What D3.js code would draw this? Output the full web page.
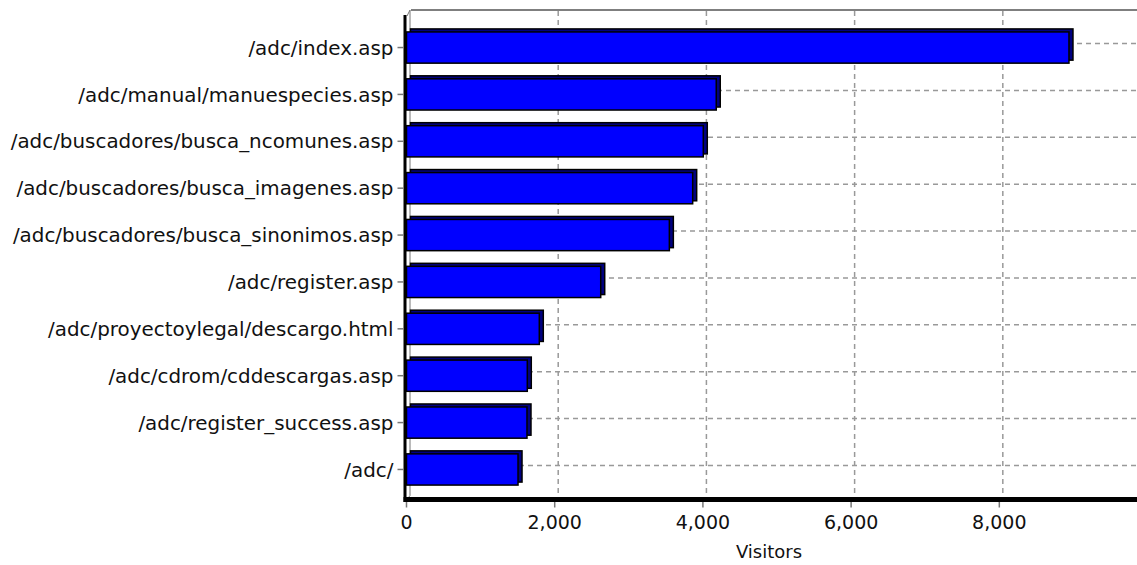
<!DOCTYPE html>
<html>
<head>
<meta charset="utf-8">
<script src="https://cdn.jsdelivr.net/npm/d3@7"></script>
<style>
    body { margin: 0; background: #fff; }
    text { font-family: "DejaVu Sans", sans-serif; fill: #111; }
</style>
</head>
<body>
<svg id="chart" width="1137" height="565"></svg>
<script>

    var pages = [
          "/adc/index.asp"
        , "/adc/manual/manuespecies.asp"
        , "/adc/buscadores/busca_ncomunes.asp"
        , "/adc/buscadores/busca_imagenes.asp"
        , "/adc/buscadores/busca_sinonimos.asp"
        , "/adc/register.asp"
        , "/adc/proyectoylegal/descargo.html"
        , "/adc/cdrom/cddescargas.asp"
        , "/adc/register_success.asp"
        , "/adc/"
    ];

    var visitors = [8940, 4180, 4005, 3862, 3547, 2621, 1792, 1630, 1626, 1505];

    var xTicks = [0, 2000, 4000, 6000, 8000];

    var axisTitle = "Visitors";

    var svg = d3.select("#chart")
      , fmt = d3.format(",")
      , dx = 4, dy = 3        // 3d depth of the bars
      , wx = 3.5, wy = 4      // offset of the back wall
      , wallTop = 10, floor = 499.5, right = 1137;

    var x = d3.scaleLinear()
        .domain([0, 9858])
        .range([406.5, 1137]);

    var y = d3.scaleBand()
        .domain(pages)
        .range([22.6, 491.4])
        .paddingInner(0.27)
        .paddingOuter(0.135);

    var bw = y.bandwidth();

    function mid (name) { return y(name) + dy + (bw - dy) / 2; }

    // back wall border
    svg.append("line")
        .attr("x1", x(0) + wx + 1).attr("x2", right)
        .attr("y1", wallTop).attr("y2", wallTop)
        .attr("stroke", "#555").attr("stroke-width", 1.5);

    svg.append("path")
        .attr("d", "M" + (x(0) + 0.5) + "," + (wallTop + 6) + " L" + (x(0) + wx) + "," + wallTop +
                   " L" + (x(0) + wx) + "," + (floor - wy) + " L" + (x(0) + 0.5) + "," + floor)
        .attr("fill", "none").attr("stroke", "#777").attr("stroke-width", 1);

    // grid on the back wall
    svg.append("g")
        .selectAll("line")
        .data(xTicks.slice(1))
        .enter()
        .append("line")
        .attr("x1", function (t) { return x(t) + wx; })
        .attr("x2", function (t) { return x(t) + wx; })
        .attr("y1", wallTop + 1).attr("y2", floor - 3)
        .attr("stroke", "#999").attr("stroke-width", 1.5)
        .attr("stroke-dasharray", "5,4");

    svg.append("g")
        .selectAll("line")
        .data(pages)
        .enter()
        .append("line")
        .attr("x1", x(0) + wx + 1).attr("x2", right)
        .attr("y1", function (d) { return mid(d) - wy; })
        .attr("y2", function (d) { return mid(d) - wy; })
        .attr("stroke", "#999").attr("stroke-width", 1.5)
        .attr("stroke-dasharray", "5,4");

    // bars: back face then front face
    var bars = svg.append("g")
        .selectAll("g")
        .data(pages)
        .enter()
        .append("g");

    bars.append("rect")
        .attr("x", x(0) + dx)
        .attr("y", function (d) { return y(d); })
        .attr("width", function (d, i) { return x(visitors[i]) - x(0); })
        .attr("height", bw - dy)
        .attr("fill", "#000080")
        .attr("stroke", "#000").attr("stroke-width", 1.5);

    bars.append("rect")
        .attr("x", x(0))
        .attr("y", function (d) { return y(d) + dy; })
        .attr("width", function (d, i) { return x(visitors[i]) - x(0); })
        .attr("height", bw - dy)
        .attr("fill", "#0000ff")
        .attr("stroke", "#000").attr("stroke-width", 1.5);

    // thick front axes
    svg.append("line")
        .attr("x1", x(0) - 1.5).attr("x2", x(0) - 1.5)
        .attr("y1", wallTop + 5).attr("y2", floor + 2.5)
        .attr("stroke", "#000").attr("stroke-width", 3);

    svg.append("line")
        .attr("x1", x(0) - 3).attr("x2", right)
        .attr("y1", floor).attr("y2", floor)
        .attr("stroke", "#000").attr("stroke-width", 5);

    // y axis ticks and labels
    var yl = svg.append("g")
        .selectAll("g")
        .data(pages)
        .enter()
        .append("g")
        .attr("transform", function (d) { return "translate(0," + mid(d) + ")"; });

    yl.append("line")
        .attr("x1", x(0) - 9).attr("x2", x(0) - 3)
        .attr("stroke", "#777").attr("stroke-width", 1.5);

    yl.append("text")
        .attr("x", x(0) - 13)
        .attr("dy", "0.36em")
        .attr("text-anchor", "end")
        .style("font-size", "19.9px")
        .text(function (d) { return d; });

    // x axis ticks and labels
    var xl = svg.append("g")
        .selectAll("g")
        .data(xTicks)
        .enter()
        .append("g")
        .attr("transform", function (t) { return "translate(" + x(t) + ",0)"; });

    xl.append("line")
        .attr("y1", floor + 2.5).attr("y2", floor + 8)
        .attr("stroke", "#777").attr("stroke-width", 1.5);

    xl.append("text")
        .attr("y", 529)
        .attr("text-anchor", "middle")
        .style("font-size", "19px")
        .text(function (t) { return fmt(t); });

    svg.append("text")
        .attr("x", 769)
        .attr("y", 558)
        .attr("text-anchor", "middle")
        .style("font-size", "18px")
        .text(axisTitle);

</script>
</body>
</html>
